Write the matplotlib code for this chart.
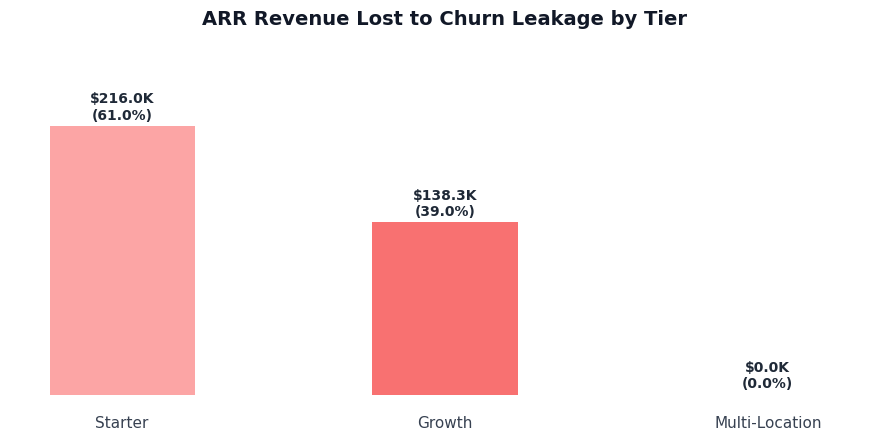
import matplotlib
matplotlib.use("Agg")
import matplotlib.pyplot as plt

tiers = ["Starter", "Growth", "Multi-Location"]
arr_lost_k = [216.0, 138.3, 0.0]
shares = [61.0, 39.0, 0.0]
colors = ["#FCA5A5", "#F87171", "#EF4444"]

fig = plt.figure(figsize=(8.89, 4.39), dpi=100)
ax = fig.add_axes([0.0112, 0.0990, 0.9786, 0.7654])
x = list(range(len(tiers)))
bars = ax.bar(x, arr_lost_k, width=0.45, color=colors)
for xi, v, s in zip(x, arr_lost_k, shares):
    ax.annotate(f"${v:.1f}K\n({s:.1f}%)", (xi, v), xytext=(0, 3), textcoords="offset points",
                ha="center", va="bottom", fontsize=10, fontweight="bold", color="#1F2937",
                linespacing=1.2)
ax.set_xticks(x)
ax.set_xticklabels(tiers, fontsize=11, color="#374151")
ax.tick_params(axis="x", length=0, pad=15)
ax.set_yticks([])
ax.set_ylim(0, 270)
for sp in ax.spines.values():
    sp.set_visible(False)
fig.suptitle("ARR Revenue Lost to Churn Leakage by Tier", fontsize=14, fontweight="bold",
             color="#111827", y=0.978)
fig.savefig("out.png", dpi=100)
